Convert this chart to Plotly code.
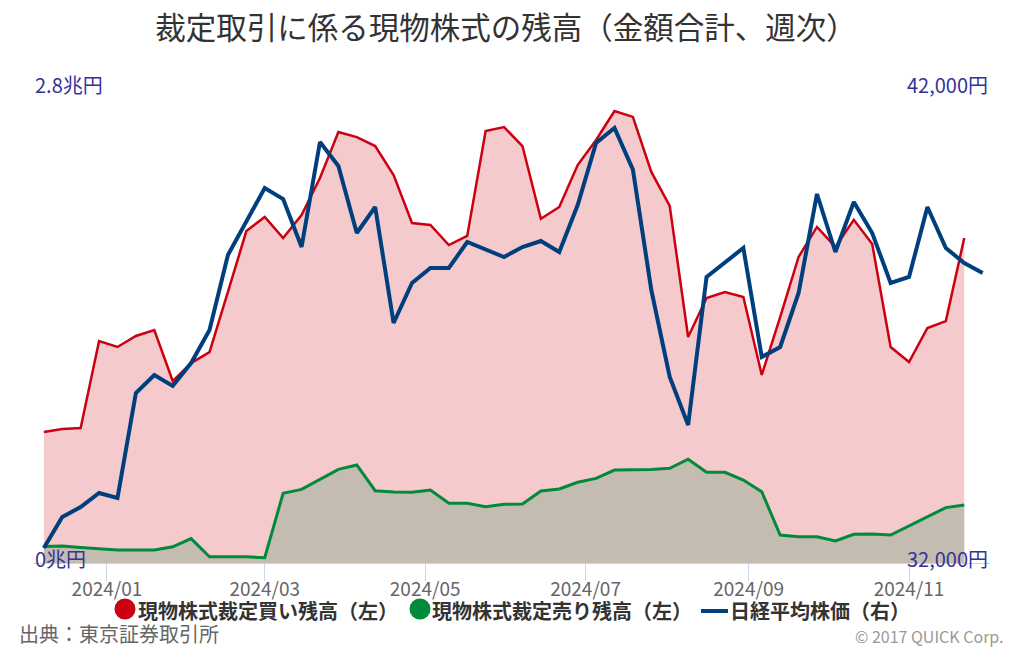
import plotly.graph_objects as go

# ---- data ----
dates = [
    "2023-12-08", "2023-12-15", "2023-12-22", "2023-12-29",
    "2024-01-05", "2024-01-12", "2024-01-19", "2024-01-26",
    "2024-02-02", "2024-02-09", "2024-02-16", "2024-02-23",
    "2024-03-01", "2024-03-08", "2024-03-15", "2024-03-22", "2024-03-29",
    "2024-04-05", "2024-04-12", "2024-04-19", "2024-04-26",
    "2024-05-03", "2024-05-10", "2024-05-17", "2024-05-24", "2024-05-31",
    "2024-06-07", "2024-06-14", "2024-06-21", "2024-06-28",
    "2024-07-05", "2024-07-12", "2024-07-19", "2024-07-26",
    "2024-08-02", "2024-08-09", "2024-08-16", "2024-08-23", "2024-08-30",
    "2024-09-06", "2024-09-13", "2024-09-20", "2024-09-27",
    "2024-10-04", "2024-10-11", "2024-10-18", "2024-10-25",
    "2024-11-01", "2024-11-08", "2024-11-15", "2024-11-22", "2024-11-29",
]

# 現物株式裁定買い残高（兆円）
buy_balance = [
    0.774, 0.792, 0.797, 1.311, 1.276, 1.341, 1.376, 1.075, 1.181, 1.246,
    1.601, 1.961, 2.044, 1.920, 2.056, 2.274, 2.546, 2.516, 2.463, 2.292,
    2.008, 1.997, 1.878, 1.932, 2.552, 2.575, 2.463, 2.033, 2.103, 2.351,
    2.499, 2.670, 2.635, 2.310, 2.110, 1.335, 1.565, 1.601, 1.571, 1.111,
    1.453, 1.808, 1.985, 1.867, 2.027, 1.884, 1.276, 1.187, 1.388, 1.429,
    1.920,
]

# 現物株式裁定売り残高（兆円）
sell_balance = [
    0.097, 0.100, 0.092, 0.084, 0.077, 0.077, 0.077, 0.096, 0.144, 0.037,
    0.037, 0.037, 0.031, 0.412, 0.435, 0.494, 0.553, 0.579, 0.427, 0.419,
    0.418, 0.431, 0.353, 0.353, 0.333, 0.347, 0.349, 0.425, 0.437, 0.477,
    0.500, 0.549, 0.549, 0.553, 0.559, 0.613, 0.536, 0.536, 0.490, 0.421,
    0.165, 0.155, 0.155, 0.130, 0.170, 0.171, 0.165, 0.219, 0.273, 0.327,
    0.343,
]

# 日経平均株価（円）
nikkei = [
    32316, 32970, 33181, 33477, 33371, 35586, 35966, 35734, 36219, 36916,
    38498, 39194, 39911, 39679, 38667, 40882, 40376, 38962, 39511, 37063,
    37907, 38224, 38224, 38772, 38624, 38456, 38667, 38793, 38561, 39553,
    40861, 41177, 40300, 37759, 35924, 34911, 38034, 38350, 38646, 36346,
    36557, 37696, 39785, 38561, 39616, 38962, 37907, 38034, 39511, 38646,
    38329, 38118,
]

left_ticks = [0, 2.8]
left_tick_text = ["0兆円", "2.8兆円"]
right_ticks = [32000, 42000]
right_tick_text = ["32,000円", "42,000円"]

legend_names = ["現物株式裁定買い残高（左）", "現物株式裁定売り残高（左）", "日経平均株価（右）"]

# ---- styling ----
W, H = 1024, 649
ML, MR, MT, MB = 33, 34, 89, 86
PW = W - ML - MR
PH = H - MT - MB
FONT = "Noto Sans CJK JP"
RED, PINK = "#cc0010", "#f4cacc"
GREEN, GREY = "#008a3a", "#c4bcb1"
BLUE = "#003f7d"
AXIS_TXT = "#333399"


def px_x(px):
    return (px - ML) / PW


def px_y(py):
    return (H - MB - py) / PH


fig = go.Figure()

fig.add_trace(go.Scatter(
    x=dates[:len(buy_balance)], y=buy_balance, mode="lines",
    line=dict(color=RED, width=2.5), fill="tozeroy", fillcolor=PINK,
    name=legend_names[0], showlegend=False, hoverinfo="skip",
))
fig.add_trace(go.Scatter(
    x=dates[:len(sell_balance)], y=sell_balance, mode="lines",
    line=dict(color=GREEN, width=3), fill="tozeroy", fillcolor=GREY,
    name=legend_names[1], showlegend=False, hoverinfo="skip",
))
fig.add_trace(go.Scatter(
    x=dates, y=nikkei, mode="lines", yaxis="y2",
    line=dict(color=BLUE, width=4), name=legend_names[2],
    showlegend=False, hoverinfo="skip",
))

fig.update_layout(
    width=W, height=H,
    margin=dict(l=ML, r=MR, t=MT, b=MB, pad=0),
    paper_bgcolor="white", plot_bgcolor="white",
    font=dict(family=FONT, color="#333333"),
    showlegend=False,
    title=dict(
        text="裁定取引に係る現物株式の残高（金額合計、週次）",
        x=506 / W, xref="container", xanchor="center",
        y=1 - 28 / H, yref="container", yanchor="middle",
        font=dict(family=FONT, size=30.5, color="#333333"),
    ),
    xaxis=dict(
        type="date",
        range=["2023-12-03 21:00", "2024-12-01 19:00"],
        tick0="2024-01-01", dtick="M2", tickformat="%Y/%m",
        ticks="outside", ticklen=17, tickcolor="#ccd6eb", tickwidth=1,
        showline=True, linecolor="#ccd6eb", linewidth=1,
        showgrid=False, zeroline=False,
        tickfont=dict(family=FONT, size=19, color="#666666"),
        ticklabelstandoff=-8,
    ),
    yaxis=dict(
        range=[0, 2.8], tickvals=left_ticks, showticklabels=False,
        showgrid=True, gridcolor="#e6e6e6", gridwidth=1,
        zeroline=False, showline=False, fixedrange=True,
    ),
    yaxis2=dict(
        range=[32000, 42000], tickvals=right_ticks, showticklabels=False,
        overlaying="y", side="right", showgrid=False,
        zeroline=False, showline=False,
    ),
)

# axis labels (placed inside the plot, just above each grid line)
for v, t in zip(left_ticks, left_tick_text):
    fig.add_annotation(
        x=0, xref="paper", xanchor="left", xshift=1,
        y=v, yref="y", yanchor="middle", yshift=5,
        text=t, showarrow=False,
        font=dict(family=FONT, size=20, color=AXIS_TXT),
        bgcolor="white" if v > 0 else None, borderpad=0,
    )
for v, t in zip(right_ticks, right_tick_text):
    fig.add_annotation(
        x=1, xref="paper", xanchor="right", xshift=-1,
        y=v, yref="y2", yanchor="middle", yshift=5,
        text=t, showarrow=False,
        font=dict(family=FONT, size=20, color=AXIS_TXT),
        bgcolor="white" if v > 32000 else None, borderpad=0,
    )

# legend (drawn manually to match the reference layout)
LEG_Y = 609
R = 10.5
for cx, col in [(125, RED), (420, GREEN)]:
    fig.add_shape(
        type="circle", xref="paper", yref="paper",
        x0=px_x(cx - R), x1=px_x(cx + R), y0=px_y(LEG_Y + R), y1=px_y(LEG_Y - R),
        fillcolor=col, line=dict(width=0),
    )
fig.add_shape(
    type="line", xref="paper", yref="paper",
    x0=px_x(701), x1=px_x(728), y0=px_y(611), y1=px_y(611),
    line=dict(color=BLUE, width=4),
)
for lx, name in zip([137, 431, 729], legend_names):
    fig.add_annotation(
        x=px_x(lx), xref="paper", xanchor="left",
        y=px_y(LEG_Y + 1), yref="paper", yanchor="middle",
        text="<b>" + name + "</b>", showarrow=False, borderpad=0,
        font=dict(family=FONT, size=20, color="#333333"),
    )

# footer
fig.add_annotation(
    x=px_x(18), xref="paper", xanchor="left",
    y=px_y(633), yref="paper", yanchor="middle",
    text="出典：東京証券取引所", showarrow=False, borderpad=0,
    font=dict(family=FONT, size=20, color="#666666"),
)
fig.add_annotation(
    x=px_x(1005), xref="paper", xanchor="right",
    y=px_y(636), yref="paper", yanchor="middle",
    text="© 2017 QUICK Corp.", showarrow=False, borderpad=0,
    font=dict(family=FONT, size=16, color="#999999"),
)

fig.write_html("out.html", config={"displayModeBar": False})
